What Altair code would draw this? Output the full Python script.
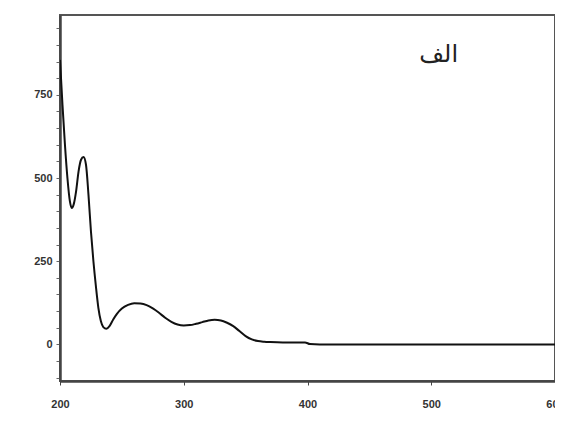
import altair as alt
import pandas as pd

wavelength = [200, 202, 204, 206, 208, 209.5, 211, 213, 215, 217, 219, 221, 223, 225, 227, 229, 231, 233, 235,
              237.5, 240, 243, 246, 250, 255, 260, 265, 270, 275, 280, 285, 290, 295, 300, 305, 310, 315, 320,
              325, 330, 335, 340, 345, 350, 355, 360, 365, 370, 380, 390, 398, 402, 410, 500, 600]
absorbance = [855, 720, 600, 500, 430, 410, 420, 460, 520, 555, 563, 540, 450, 340, 250, 175, 110, 70, 52,
              47, 55, 75, 92, 108, 119, 124, 123, 118, 108, 95, 80, 68, 60, 57, 58, 62, 67, 72,
              74, 72, 65, 55, 40, 25, 15, 10, 8, 7, 6, 6, 6, 1, 0, 0, 0]

label_text = ["الف"]
label_x = [506]
label_y = [870]

x_ticks = [200, 300, 400, 500, 600]
y_ticks = list(range(-100, 1000, 50))

df = pd.DataFrame({"wl": wavelength, "a": absorbance})
lab = pd.DataFrame({"t": label_text, "x": label_x, "y": label_y})

xs = alt.Scale(domain=[200, 600], nice=False, zero=False)
ys = alt.Scale(domain=[-110, 990], nice=False, zero=False)

x_axis = alt.Axis(values=x_ticks, format="d", grid=False, domainColor="#444", domainWidth=2.5,
                  tickColor="#444", tickSize=4, labelFont="Liberation Sans", labelFontWeight="bold",
                  labelFontSize=11, labelColor="#333", labelPadding=13, labelFlush=False,
                  labelOverlap=False)
y_axis = alt.Axis(values=y_ticks, grid=False, domainColor="#444", domainWidth=2.5,
                  tickColor="#666", tickSize=4, labelOverlap=False,
                  labelExpr="datum.value % 250 === 0 ? datum.label : ''",
                  labelFont="Liberation Sans", labelFontWeight="bold",
                  labelFontSize=11, labelColor="#333", labelPadding=4)

line = alt.Chart(df).mark_line(color="#111", strokeWidth=2, interpolate="monotone", clip=True).encode(
    x=alt.X("wl:Q", scale=xs, title=None, axis=x_axis),
    y=alt.Y("a:Q", scale=ys, title=None, axis=y_axis),
)

text = alt.Chart(lab).mark_text(font="DejaVu Sans", fontSize=24, color="#222").encode(
    x=alt.X("x:Q", scale=xs, title=None, axis=x_axis),
    y=alt.Y("y:Q", scale=ys, title=None, axis=y_axis),
    text="t:N",
)

chart = (line + text).properties(
    width=495, height=366,
    autosize=alt.AutoSizeParams(type="none"),
    padding={"left": 52, "top": 7, "right": 0, "bottom": 32},
).configure_view(stroke="#555", strokeWidth=2)

chart.save("out.html", embed_options={"renderer": "svg", "actions": False})
